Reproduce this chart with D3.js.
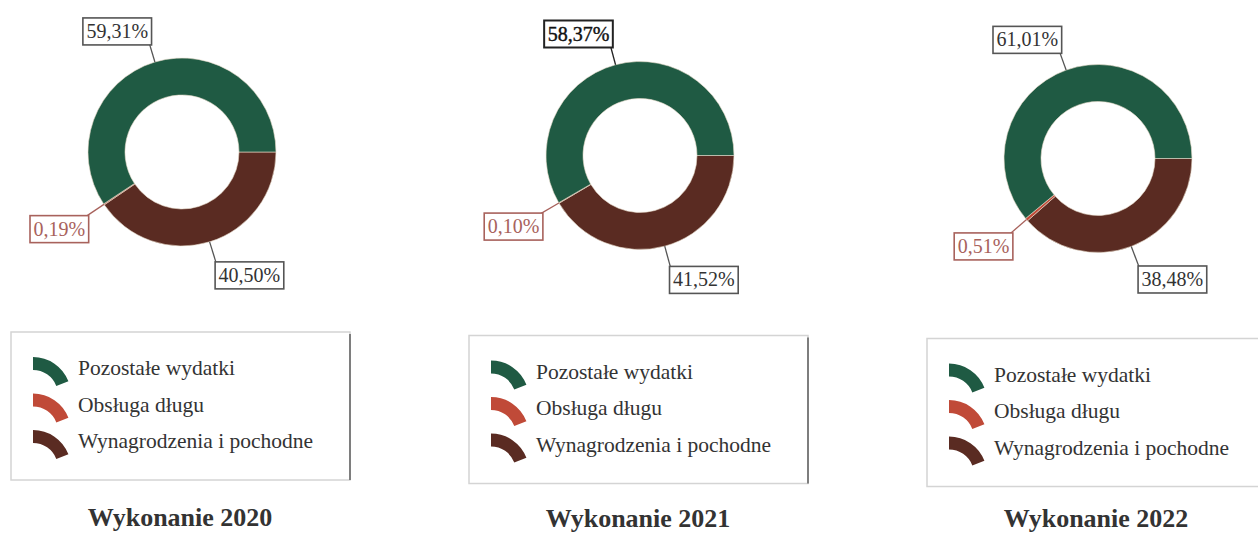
<!DOCTYPE html>
<html>
<head>
<meta charset="utf-8">
<script src="https://cdn.jsdelivr.net/npm/d3@7"></script>
<style>
  html, body { margin: 0; padding: 0; background: #fff; }
  svg { display: block; }
</style>
</head>
<body>
<svg id="chart" width="1258" height="534"></svg>
<script>
// ---- data ----
const years = ["2020", "2021", "2022"];
const titles = ["Wykonanie 2020", "Wykonanie 2021", "Wykonanie 2022"];
const categories = ["Wynagrodzenia i pochodne", "Obsługa długu", "Pozostałe wydatki"];
const wynagrodzenia = [40.50, 41.52, 38.48];
const obsluga = [0.19, 0.10, 0.51];
const pozostale = [59.31, 58.37, 61.01];
const legendOrder = ["Pozostałe wydatki", "Obsługa długu", "Wynagrodzenia i pochodne"];

// ---- styles / layout ----
const colors = {
  "Pozostałe wydatki": "#1f5a43",
  "Obsługa długu": "#c04a38",
  "Wynagrodzenia i pochodne": "#5a2b22"
};
const labelColors = {
  "Pozostałe wydatki": "#333",
  "Obsługa długu": "#a8625c",
  "Wynagrodzenia i pochodne": "#333"
};
const centersX = [182, 640, 1098];
const centersY = [152, 155.5, 158.5];
const titleY = [526, 527, 527];
const outerR = 94, innerR = 57;
const fmt = v => v.toFixed(2).replace(".", ",") + "%";

const svg = d3.select("#chart");
const pie = d3.pie().sort(null).value(d => d.value)
  .startAngle(Math.PI / 2).endAngle(Math.PI / 2 + 2 * Math.PI);
const arc = d3.arc().innerRadius(innerR).outerRadius(outerR);
const iconArc = d3.arc().innerRadius(25).outerRadius(38).startAngle(0).endAngle(1.2);

years.forEach((yr, i) => {
  const cx = centersX[i], cy = centersY[i];
  const data = categories.map((c, k) => ({
    cat: c,
    value: [wynagrodzenia, obsluga, pozostale][k][i]
  }));
  const arcs = pie(data);
  const g = svg.append("g").attr("transform", `translate(${cx},${cy})`);

  g.selectAll("path.slice").data(arcs).enter().append("path")
    .attr("class", "slice")
    .attr("d", arc)
    .attr("fill", d => colors[d.data.cat])
    .attr("stroke", "#e8dccb")
    .attr("stroke-width", 0.6);

  // labels with leader lines
  arcs.forEach(d => {
    const mid = (d.startAngle + d.endAngle) / 2;
    const sx = outerR * Math.sin(mid), sy = -outerR * Math.cos(mid);
    const ex = (outerR + 22) * Math.sin(mid), ey = -(outerR + 22) * Math.cos(mid);
    const strong = (yr === "2021" && d.data.cat === "Pozostałe wydatki");
    const col = d.data.cat === "Obsługa długu" ? labelColors[d.data.cat] : (strong ? "#222" : "#555");
    g.append("line")
      .attr("x1", sx).attr("y1", sy).attr("x2", ex).attr("y2", ey)
      .attr("stroke", col).attr("stroke-width", 1.3);
    const lg = g.append("g");
    const t = lg.append("text")
      .attr("font-family", "Liberation Serif, Times New Roman, serif")
      .attr("font-size", 20)
      .attr("fill", strong ? "#111" : labelColors[d.data.cat])
      .attr("stroke", strong ? "#111" : "none")
      .attr("stroke-width", strong ? 0.4 : 0)
      .text(fmt(d.data.value));
    const tw = t.node().getComputedTextLength();
    const bw = tw + 7, bh = 27;
    const bx = ex < 0 ? ex + 3 - bw : ex - 1;
    const by = ey < 0 ? ey + 4 - bh : ey - 1;
    lg.insert("rect", "text")
      .attr("x", bx).attr("y", by).attr("width", bw).attr("height", bh)
      .attr("fill", "#fff").attr("stroke", col).attr("stroke-width", strong ? 2 : 1.6);
    t.attr("x", bx + 3.5).attr("y", by + 20);
  });

  // legend
  const lx = cx - 171, ly = cy + 180, lw = 339, lh = 148;
  const leg = svg.append("g").attr("transform", `translate(${lx},${ly})`);
  leg.append("rect").attr("x", 0).attr("y", 0).attr("width", lw).attr("height", lh)
    .attr("fill", "#fff").attr("stroke", "#d4d4d4").attr("stroke-width", 1.5);
  leg.append("line").attr("x1", lw).attr("x2", lw).attr("y1", 2).attr("y2", lh)
    .attr("stroke", "#666").attr("stroke-width", 1.6);
  legendOrder.forEach((c, k) => {
    const by = 43 + k * 36.5;
    leg.append("path").attr("d", iconArc)
      .attr("transform", `translate(22,${by + 20})`)
      .attr("fill", colors[c]);
    leg.append("text")
      .attr("x", 67).attr("y", by)
      .attr("font-family", "Liberation Serif, Times New Roman, serif")
      .attr("font-size", 21.5)
      .attr("fill", "#333")
      .text(c);
  });

  // title
  svg.append("text")
    .attr("x", cx - 2).attr("y", titleY[i])
    .attr("text-anchor", "middle")
    .attr("font-family", "Liberation Serif, Times New Roman, serif")
    .attr("font-weight", "bold")
    .attr("font-size", 26)
    .attr("fill", "#333")
    .text(titles[i]);
});
</script>
</body>
</html>
